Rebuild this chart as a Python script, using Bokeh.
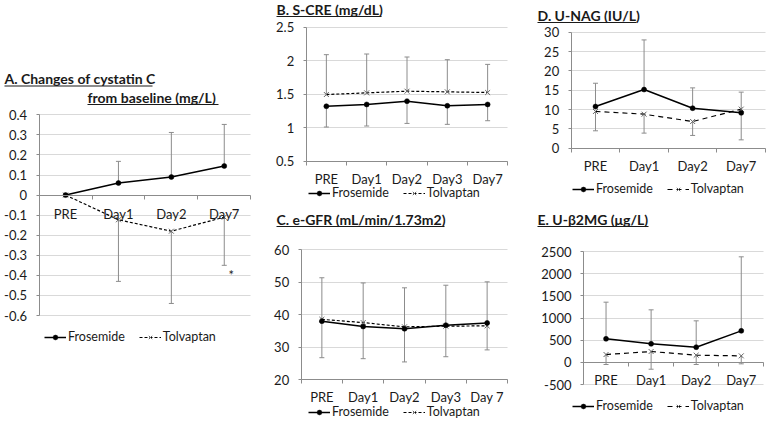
from bokeh.plotting import figure
from bokeh.models import (Range1d, FixedTicker, Legend, LegendItem, ColumnDataSource,
                          Label, BoxAnnotation, Grid)
from bokeh.layouts import row, column
from bokeh.embed import file_html
from bokeh.resources import INLINE
from bokeh.core.properties import value

FONT = "Lato"
GRID = "#d9d9d9"
AXIS = "#8c8c8c"
ERR = "#8c8c8c"
TEXT = "#1a1a1a"

# ---------------- data ----------------
a_categories = ["PRE", "Day1", "Day2", "Day7"]
a_frosemide = [0.0, 0.06, 0.09, 0.145]
a_frosemide_err = [0.0, 0.168, 0.312, 0.352]
a_tolvaptan = [0.0, -0.123, -0.18, -0.11]
a_tolvaptan_err = [0.0, -0.43, -0.54, -0.35]
a_tolvaptan_sig = ["", "", "", "*"]
a_yticks = [-0.6, -0.5, -0.4, -0.3, -0.2, -0.1, 0.0, 0.1, 0.2, 0.3, 0.4]
a_ylabels = ["-0.6", "-0.5", "-0.4", "-0.3", "-0.2", "-0.1", "0", "0.1", "0.2", "0.3", "0.4"]

b_categories = ["PRE", "Day1", "Day2", "Day3", "Day7"]
b_frosemide = [1.32, 1.347, 1.396, 1.327, 1.347]
b_frosemide_err = [1.01, 1.025, 1.064, 1.05, 1.104]
b_tolvaptan = [1.495, 1.52, 1.545, 1.535, 1.525]
b_tolvaptan_err = [2.09, 2.10, 2.055, 2.015, 1.945]
b_yticks = [0.5, 1.0, 1.5, 2.0, 2.5]
b_ylabels = ["0.5", "1", "1.5", "2", "2.5"]

c_categories = ["PRE", "Day1", "Day2", "Day3", "Day 7"]
c_frosemide = [38.05, 36.4, 35.7, 36.8, 37.5]
c_frosemide_err = [26.8, 26.5, 25.5, 27.1, 29.2]
c_tolvaptan = [38.6, 37.6, 36.3, 36.5, 36.6]
c_tolvaptan_err = [51.4, 49.8, 48.3, 49.1, 50.15]
c_yticks = [20, 30, 40, 50, 60]
c_ylabels = ["20", "30", "40", "50", "60"]

d_categories = ["PRE", "Day1", "Day2", "Day7"]
d_frosemide = [10.78, 15.17, 10.35, 9.14]
d_frosemide_err = [16.8, 28.0, 15.6, 2.16]
d_tolvaptan = [9.5, 8.8, 6.9, 10.1]
d_tolvaptan_err = [4.5, 3.9, 3.3, 14.5]
d_yticks = [0, 5, 10, 15, 20, 25, 30]
d_ylabels = ["0", "5", "10", "15", "20", "25", "30"]

e_categories = ["PRE", "Day1", "Day2", "Day7"]
e_frosemide = [530, 417, 342, 710]
e_frosemide_err = [1357, 1184, 936, 2380]
e_tolvaptan = [176, 244, 161, 146]
e_tolvaptan_err = [-49, -155, -49, -34]
e_yticks = [-500, 0, 500, 1000, 1500, 2000, 2500]
e_ylabels = ["-500", "0", "500", "1000", "1500", "2000", "2500"]

title_a = ["A. Changes of cystatin C", "from baseline (mg/L)"]
title_b = ["B. S-CRE (mg/dL)"]
title_c = ["C. e-GFR (mL/min/1.73m2)"]
title_d = ["D. U-NAG (IU/L)"]
title_e = ["E. U-\u03b22MG (\u03bcg/L)"]

HAS_CROSS = "cross_bounds" in Grid.properties()


def errbars(p, xs, vals, ends):
    idx = [i for i in range(len(xs)) if ends[i] != vals[i]]
    src = ColumnDataSource(dict(x=[xs[i] for i in idx],
                                y0=[vals[i] for i in idx],
                                y1=[ends[i] for i in idx]))
    p.segment(x0="x", y0="y0", x1="x", y1="y1", source=src,
              line_color=ERR, line_width=1)
    p.scatter(x="x", y="y1", source=src, marker="dash", size=5,
              line_color=ERR, line_width=1)


def panel(cats, fro, fro_err, tol, tol_err, yticks, ylabels, W, H, box,
          titles, title_pos, underline_w, legend_xy, axis_at=None,
          xlabel_standoff=5, tol_dash="3 2"):
    """box = (L, R, T, B): pixel box of the plotting area inside a W x H canvas."""
    n = len(cats)
    xs = list(range(n))
    L, R, T, B = box
    ymin, ymax = yticks[0], yticks[-1]
    sx = (R - L) / n
    sy = (B - T) / (ymax - ymin)
    x_range = Range1d(-0.5 - L / sx, n - 0.5 + (W - R) / sx)
    y_range = Range1d(ymin - (H - B) / sy, ymax + T / sy)
    p = figure(width=W, height=H, output_backend="svg", toolbar_location=None,
               x_range=x_range, y_range=y_range, min_border=0)
    p.outline_line_color = None
    p.background_fill_color = "white"
    p.border_fill_color = "white"
    p.xgrid.visible = False

    yt = FixedTicker(ticks=yticks, minor_ticks=[])
    p.yaxis.ticker = yt
    p.yaxis.fixed_location = -0.5
    p.yaxis.bounds = (ymin, ymax)
    p.yaxis.major_label_overrides = {float(t): l for t, l in zip(yticks, ylabels)}
    p.yaxis.axis_line_color = AXIS
    p.yaxis.major_tick_line_color = AXIS
    p.yaxis.major_tick_out = 3
    p.yaxis.major_tick_in = 0
    p.yaxis.minor_tick_line_color = None
    p.yaxis.major_label_standoff = 9
    p.yaxis.major_label_text_font = FONT
    p.yaxis.major_label_text_font_size = "13px"
    p.yaxis.major_label_text_color = TEXT

    if HAS_CROSS:
        p.ygrid.ticker = yt
        p.ygrid.bounds = (ymin, ymax)
        p.ygrid.cross_bounds = (-0.5, n - 0.5)
        p.ygrid.grid_line_color = GRID
        p.ygrid.grid_line_width = 1
    else:
        p.ygrid.visible = False
        p.segment(x0=[-0.5] * len(yticks), x1=[n - 0.5] * len(yticks),
                  y0=yticks, y1=yticks, line_color=GRID, line_width=1)

    xt = FixedTicker(ticks=xs, minor_ticks=[i - 0.5 for i in range(n + 1)])
    p.xaxis.ticker = xt
    p.xaxis.fixed_location = ymin if axis_at is None else axis_at
    p.xaxis.bounds = (-0.5, n - 0.5)
    p.xaxis.major_label_overrides = {float(i): c for i, c in enumerate(cats)}
    p.xaxis.axis_line_color = AXIS
    p.xaxis.major_tick_line_color = None
    p.xaxis.major_tick_out = 0
    p.xaxis.major_tick_in = 0
    p.xaxis.minor_tick_line_color = AXIS
    p.xaxis.minor_tick_out = 4
    p.xaxis.minor_tick_in = 0
    p.xaxis.major_label_standoff = xlabel_standoff
    p.xaxis.major_label_text_font = FONT
    p.xaxis.major_label_text_font_size = "13px"
    p.xaxis.major_label_text_color = TEXT

    errbars(p, xs, fro, fro_err)
    errbars(p, xs, tol, tol_err)

    tr = p.line(xs, tol, line_color="black", line_width=1.2, line_dash=tol_dash)
    fr = p.line(xs, fro, line_color="black", line_width=1.5)
    tm = p.scatter(xs, tol, marker="x", size=7, line_color="#666", line_width=1)
    fm = p.scatter(xs, fro, marker="circle", size=5, fill_color="black",
                   line_color="black", line_width=0.5)

    legend = Legend(items=[LegendItem(label=value("Frosemide"), renderers=[fr, fm]),
                           LegendItem(label=value("Tolvaptan"), renderers=[tr, tm])],
                    location=legend_xy, orientation="horizontal",
                    border_line_color=None, background_fill_alpha=0,
                    padding=0, margin=0, spacing=14, glyph_width=22,
                    glyph_height=12, label_height=12, label_standoff=2,
                    label_text_font=FONT, label_text_font_size="12.5px",
                    label_text_color=TEXT)
    p.add_layout(legend)

    # titles: (x, cap-centre y from top, underline y from top)
    for line, (tx, ty, uy), uw in zip(titles, title_pos, underline_w):
        p.add_layout(Label(x=tx, y=H - ty, x_units="screen", y_units="screen",
                           text=line, text_font=FONT, text_font_size="14px",
                           text_font_style="bold", text_color=TEXT,
                           text_align="left", text_baseline="middle"))
        p.add_layout(BoxAnnotation(left=tx, right=tx + uw, top=H - uy + 0.6,
                                   bottom=H - uy - 0.6,
                                   left_units="screen", right_units="screen",
                                   top_units="screen", bottom_units="screen",
                                   fill_color=TEXT, fill_alpha=1, line_color=None,
                                   line_alpha=0))
    return p, xs


# ---- column 1: panel A (canvas 260 x 420) ----
pA, xsA = panel(a_categories, a_frosemide, a_frosemide_err, a_tolvaptan, a_tolvaptan_err,
                a_yticks, a_ylabels, 260, 420, (38.6, 250.2, 114.3, 315.0),
                title_a, [(4, 78, 85.5), (87, 96.5, 104)], [148, 131], (44, 76),
                axis_at=0, xlabel_standoff=7)
sig_idx = [i for i, s in enumerate(a_tolvaptan_sig) if s]
pA.text(x=[xsA[i] for i in sig_idx], y=[a_tolvaptan_err[i] for i in sig_idx],
        text=[a_tolvaptan_sig[i] for i in sig_idx], x_offset=7, y_offset=10,
        text_font=value(FONT), text_font_size="13px", text_color=TEXT,
        text_align="center", text_baseline="middle")

# ---- column 2: panels B (255 x 200), C (255 x 220) ----
pB, _ = panel(b_categories, b_frosemide, b_frosemide_err, b_tolvaptan, b_tolvaptan_err,
              b_yticks, b_ylabels, 255, 200, (45.7, 247.3, 26.7, 160.7),
              title_b, [(16, 8.5, 16)], [105], (48, 0), xlabel_standoff=6)
pC, _ = panel(c_categories, c_frosemide, c_frosemide_err, c_tolvaptan, c_tolvaptan_err,
              c_yticks, c_ylabels, 255, 220, (40.7, 247.3, 49.3, 179.3),
              title_c, [(16, 18.7, 26)], [168], (48, 1), xlabel_standoff=5)

# ---- column 3: panels D (253 x 200), E (253 x 220) ----
pD, _ = panel(d_categories, d_frosemide, d_frosemide_err, d_tolvaptan, d_tolvaptan_err,
              d_yticks, d_ylabels, 253, 200, (55.7, 250.0, 31.7, 147.7),
              title_d, [(22, 14.5, 22)], [99], (57, 4), xlabel_standoff=6,
              tol_dash="5 4")
pE, _ = panel(e_categories, e_frosemide, e_frosemide_err, e_tolvaptan, e_tolvaptan_err,
              e_yticks, e_ylabels, 253, 220, (68.0, 248.3, 51.0, 184.0),
              title_e, [(22, 18.5, 26)], [111], (57, 7), axis_at=0,
              xlabel_standoff=6, tol_dash="5 4")

layout = row(pA, column(pB, pC), column(pD, pE))
open("out.html", "w").write(file_html(layout, INLINE))
